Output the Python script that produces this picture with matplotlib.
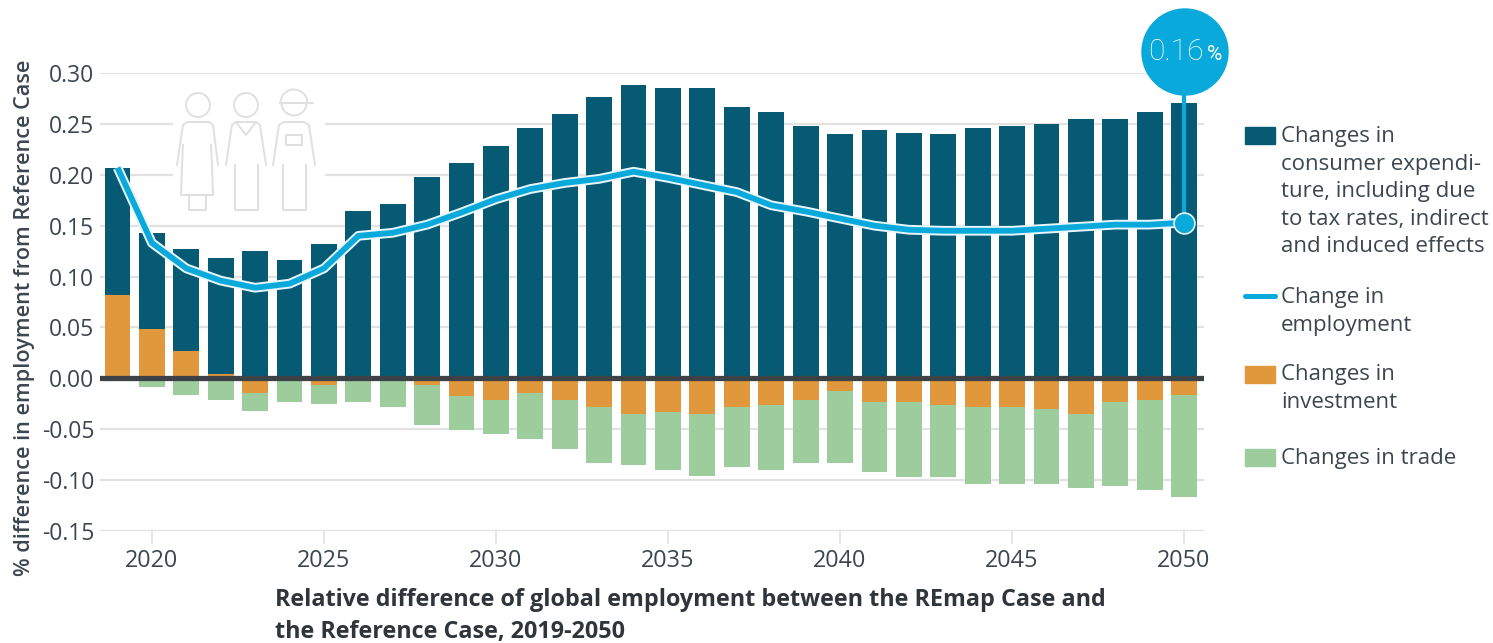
import matplotlib
matplotlib.use("Agg")
import matplotlib.pyplot as plt
from matplotlib.patches import Arc, Circle, Rectangle

years=list(range(2019,2051))
# top of the positive stack (investment + consumer expenditure)
top_total=[.207,.143,.127,.118,.125,.116,.132,.164,.171,.198,.212,.228,.246,.260,.276,.288,
           .285,.285,.267,.262,.248,.240,.244,.241,.240,.246,.248,.250,.255,.255,.262,.271]
invest_pos=[.082,.048,.027,.004,0,0,0,0,0,0,0,0,0,0,0,0,
            0,0,0,0,0,0,0,0,0,0,0,0,0,0,0,0]
invest_neg=[0,0,0,0,-.014,0,-.007,0,0,-.007,-.017,-.021,-.014,-.021,-.028,-.035,
            -.033,-.035,-.028,-.026,-.021,-.012,-.023,-.023,-.026,-.028,-.028,-.030,-.035,-.023,-.021,-.016]
# bottom of the negative stack (investment + trade)
trade_bottom=[-.002,-.009,-.016,-.021,-.032,-.023,-.025,-.023,-.028,-.046,-.051,-.055,-.060,-.069,-.083,-.085,
              -.090,-.096,-.087,-.090,-.083,-.083,-.092,-.097,-.097,-.104,-.104,-.104,-.108,-.106,-.110,-.117]
employment=[.207,.133,.108,.096,.089,.093,.108,.140,.143,.151,.163,.176,.186,.192,.196,.203,
            .197,.190,.183,.170,.164,.157,.150,.146,.145,.145,.145,.147,.149,.151,.151,.153]
y_ticks=[-.15,-.10,-.05,0,.05,.10,.15,.20,.25,.30]
x_ticks=[2020,2025,2030,2035,2040,2045,2050]

navy="#075a73"
orange="#e1973b"
green="#9dcd9c"
cyan="#0aa9db"
text_col="#3c4650"
grid_col="#e2e2e2"
plt.rcParams['font.family']=['Open Sans','DejaVu Sans']
W,H=1493,643

fig=plt.figure(figsize=(W/100,H/100),dpi=100,facecolor="white")
ax=fig.add_axes([100/W,1-531/H,1104/W,458/H])
ax.set_xlim(2018.49,2050.58)
ax.set_ylim(-.15,.30)
for s in ax.spines.values():
    s.set_visible(False)
ax.set_yticks(y_ticks)
ax.set_yticklabels([f"{v:.2f}" for v in y_ticks],fontsize=16.5,color=text_col)
ax.set_xticks(x_ticks)
ax.set_xticklabels([str(v) for v in x_ticks],fontsize=16.8,color=text_col)
ax.tick_params(axis="y",length=0,pad=4)
ax.tick_params(axis="x",length=9,width=1.2,color=grid_col,pad=4)
ax.grid(axis="y",color=grid_col,linewidth=1.6)
ax.set_axisbelow(True)

# pixel space overlay for the icon, callout bubble, titles and legend
ax_over=fig.add_axes([0,0,1,1],zorder=3)
ax_over.set_xlim(0,W)
ax_over.set_ylim(H,0)
ax_over.axis("off")
ax_over.patch.set_alpha(0)

bar_w=.75
consumer=[t-p for t,p in zip(top_total,invest_pos)]
trade=[b-n for b,n in zip(trade_bottom,invest_neg)]
ax.bar(years,invest_pos,width=bar_w,color=orange,zorder=2)
ax.bar(years,consumer,width=bar_w,bottom=invest_pos,color=navy,zorder=2)
ax.bar(years,invest_neg,width=bar_w,color=orange,zorder=2)
ax.bar(years,trade,width=bar_w,bottom=invest_neg,color=green,zorder=2)
ax.axhline(0,color="#3d4247",linewidth=3.8,zorder=3)
ax.plot(years,employment,color="#e8f6fb",linewidth=7,zorder=4,solid_capstyle="butt")
ax.plot(years,employment,color=cyan,linewidth=4.2,zorder=5,solid_capstyle="butt")

# callout on the last point
ax.plot([years[-1],years[-1]],[employment[-1],.30],color=cyan,linewidth=3,zorder=5,clip_on=False)
ax.plot(years[-1],employment[-1],"o",color=cyan,markersize=15,markeredgecolor="#e8f6fb",
        markeredgewidth=1.2,zorder=6)
ax_over.add_patch(Circle((1185,52),43,color=cyan,zorder=5))
ax_over.text(1176,52,"0.16",color="white",fontsize=21.5,ha="center",va="center",zorder=6,
             family=['Roboto','DejaVu Sans'],fontweight="light",stretch="condensed")
ax_over.text(1215,55,"%",color="white",fontsize=15,ha="center",va="center",zorder=6,
             family=['Roboto','DejaVu Sans'],stretch="condensed")

# people icon
ic="#e0e0e0"
lw=1.4
ax_over.add_patch(Rectangle((173,88),152,125,facecolor="white",edgecolor="none",zorder=1))
def line(xs,ys):
    ax_over.plot(xs,ys,color=ic,linewidth=lw,zorder=2,solid_joinstyle="round")
for cx in (198,246):
    ax_over.add_patch(Circle((cx,105),12,fill=False,edgecolor=ic,linewidth=lw,zorder=2))
# worker head below the brim, helmet above it
ax_over.add_patch(Arc((294,103),25,25,theta1=0,theta2=180,edgecolor=ic,linewidth=lw,zorder=2))
ax_over.add_patch(Arc((294,103),27,27,theta1=180,theta2=360,edgecolor=ic,linewidth=lw,zorder=2))
line([280,313],[103,103])
# woman
line([177,183,187,209,213,218],[165,125,122,122,125,165])
line([183,182,181,213,212,211],[145,165,195,195,165,145])
line([189,189,206,206],[195,210,210,195])
# man
line([226,232,236,256,260,266],[165,125,122,122,125,165])
line([236,246,256],[122,135,122])
line([235,235,258,258],[165,210,210,165])
# worker
line([273,279,284,304,309,315],[165,125,122,122,125,165])
line([283,283,306,306],[165,210,210,165])
ax_over.add_patch(Rectangle((286,135),16,10,fill=False,edgecolor=ic,linewidth=lw,zorder=2))

# axis titles
ax_over.text(25,318,"% difference in employment from Reference Case",rotation=90,fontsize=15.6,
             color=text_col,ha="center",va="center",fontweight="semibold")
ax_over.text(275,600,"Relative difference of global employment between the REmap Case and",
             fontsize=16.85,color="#2f353b",fontweight="bold",ha="left",va="center")
ax_over.text(275,632,"the Reference Case, 2019-2050",
             fontsize=16.85,color="#2f353b",fontweight="bold",ha="left",va="center")

# legend
def legend_text(lines,y0):
    for i,t in enumerate(lines):
        ax_over.text(1281,y0+i*27.6,t,fontsize=16,color=text_col,ha="left",va="center")
ax_over.add_patch(Rectangle((1245,127),30,17,color=navy))
legend_text(["Changes in","consumer expendi-","ture, including due","to tax rates, indirect","and induced effects"],136.5)
ax_over.plot([1245,1275],[296,296],color=cyan,linewidth=3.6,solid_capstyle="round")
legend_text(["Change in","employment"],297.5)
ax_over.add_patch(Rectangle((1245,366),30,17,color=orange))
legend_text(["Changes in","investment"],374.5)
ax_over.add_patch(Rectangle((1245,449),30,17,color=green))
legend_text(["Changes in trade"],458.5)

fig.savefig("out.png",dpi=100)
